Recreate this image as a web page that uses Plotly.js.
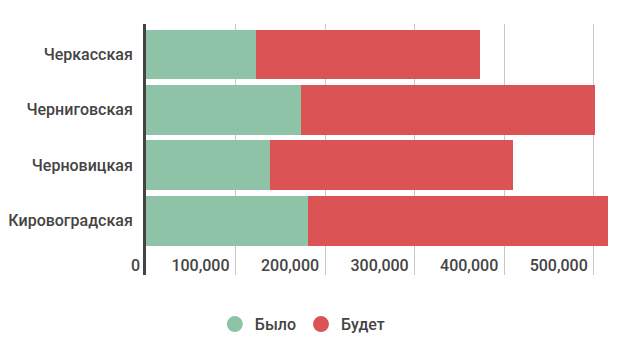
<!DOCTYPE html>
<html>
<head>
<meta charset="utf-8">
<script src="https://cdn.plot.ly/plotly-3.0.1.min.js"></script>
<style>html,body{margin:0;padding:0;background:#fff;}#chart{width:617px;height:357px;}</style>
</head>
<body>
<div id="chart"></div>
<script>
const categories = ["Черкасская", "Черниговская", "Черновицкая", "Кировоградская"];
const seriesNames = ["Было", "Будет"];
const bylo = [123000, 173000, 138000, 181000];
const budet = [250000, 328500, 272000, 335000];
const xTicks = [0, 100000, 200000, 300000, 400000, 500000];
const xTickLabels = ["0", "100,000", "200,000", "300,000", "400,000", "500,000"];

const GREEN = "#8ec3a7";
const RED = "#dc5356";
const FONT = "Roboto, sans-serif";

const traces = [
  {type: "bar", orientation: "h", y: categories, x: bylo, name: seriesNames[0],
   marker: {color: GREEN}, showlegend: false, hoverinfo: "x+y"},
  {type: "bar", orientation: "h", y: categories, x: budet, name: seriesNames[1],
   marker: {color: RED}, showlegend: false, hoverinfo: "x+y"},
  {type: "scatter", mode: "markers", x: [null], y: [null], name: seriesNames[0],
   marker: {color: GREEN, size: 16, symbol: "circle"}},
  {type: "scatter", mode: "markers", x: [null], y: [null], name: seriesNames[1],
   marker: {color: RED, size: 16, symbol: "circle"}}
];

const layout = {
  width: 617, height: 357,
  margin: {l: 146, r: 8, t: 24, b: 82, pad: 0},
  paper_bgcolor: "#fff", plot_bgcolor: "#fff",
  barmode: "stack", bargap: 0.1,
  font: {family: FONT, size: 16, color: "#444", weight: 500},
  xaxis: {
    range: [0, 517000], tickvals: xTicks, ticktext: xTickLabels,
    anchor: "free", position: 0.085,
    ticklabelposition: "outside left", ticklabelshift: -6,
    showgrid: true, gridcolor: "#c8c8c8", gridwidth: 1,
    zeroline: false, showline: false, ticks: "",
    tickfont: {family: FONT, size: 16, color: "#444", weight: 500},
    fixedrange: true
  },
  yaxis: {
    type: "category", categoryarray: categories, categoryorder: "array",
    range: [3.98, -0.55],
    showline: true, linecolor: "#444", linewidth: 3,
    showgrid: false, zeroline: false, ticks: "", ticklabelstandoff: 7,
    tickfont: {family: FONT, size: 16, color: "#444", weight: 500},
    fixedrange: true
  },
  legend: {
    orientation: "h", xref: "container", yref: "container", traceorder: "normal",
    x: 0.49, xanchor: "center", y: 0.092, yanchor: "middle",
    font: {family: FONT, size: 16, color: "#444", weight: 500},
    itemwidth: 30
  },
  showlegend: true
};

Plotly.newPlot("chart", traces, layout, {displayModeBar: false, staticPlot: true});
</script>
</body>
</html>
